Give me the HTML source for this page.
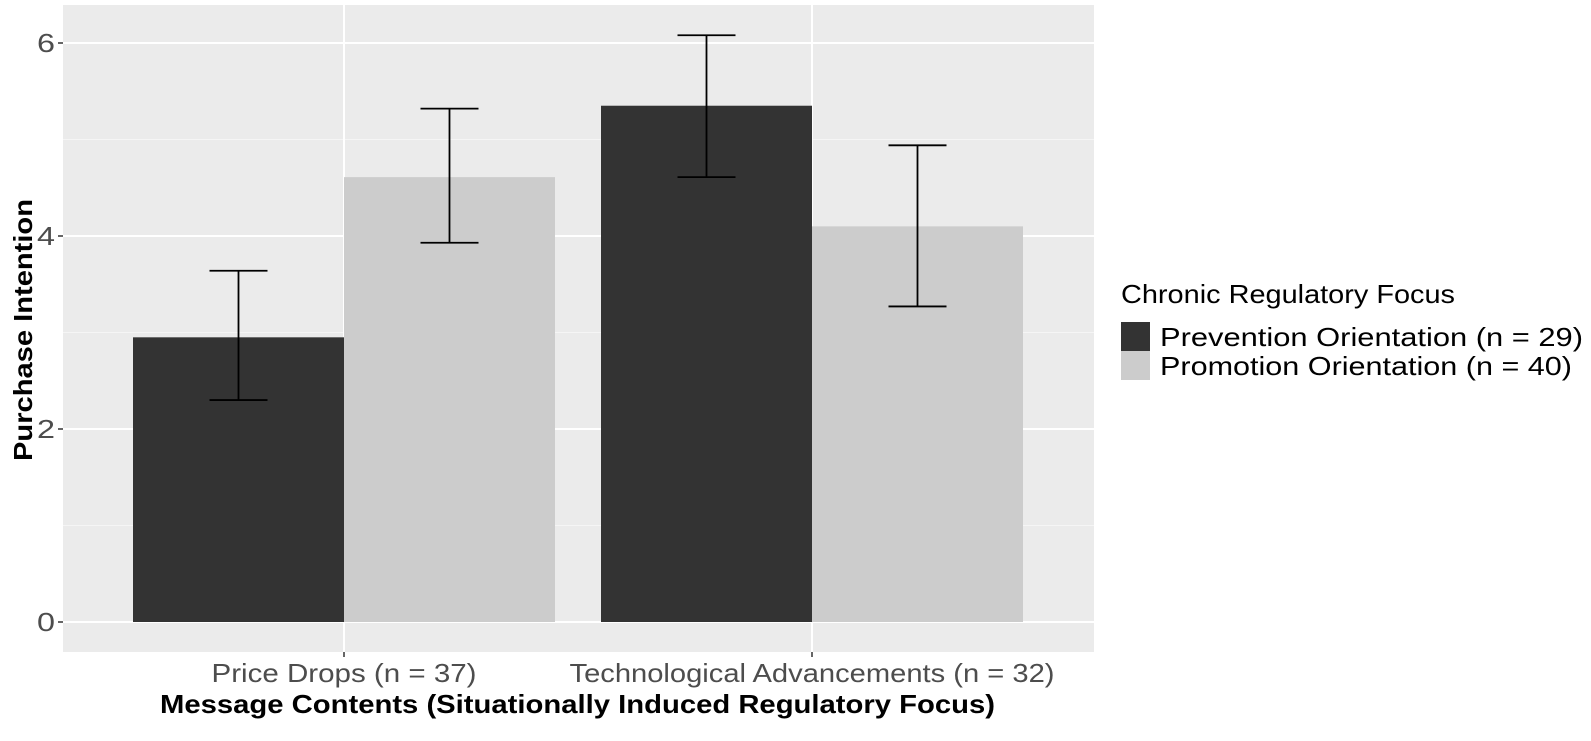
<!DOCTYPE html>
<html><head><meta charset="utf-8"><style>
body{margin:0;background:#fff;}
svg text{font-family:"Liberation Sans",sans-serif;}
</style></head><body>
<svg id="chart" width="1591" height="736" xmlns="http://www.w3.org/2000/svg"></svg>
<script>
const categories = ["Price Drops (n = 37)", "Technological Advancements (n = 32)"];
const seriesNames = ["Prevention Orientation (n = 29)", "Promotion Orientation (n = 40)"];
const preventionMean = [2.95, 5.35];
const preventionLow = [2.30, 4.61];
const preventionHigh = [3.64, 6.08];
const promotionMean = [4.61, 4.10];
const promotionLow = [3.93, 3.27];
const promotionHigh = [5.32, 4.94];
const yTicks = [0, 2, 4, 6];

const NS = "http://www.w3.org/2000/svg";
const svg = document.getElementById('chart');
const P = {l:63, r:1094, t:5, b:652};
const y = v => 622 - v * 96.5;
const catX = i => 344 + i * 468;
const barW = 211;
const catLen = [265, 485];
const legLen = [423, 412];
function mk(tag, attrs, parent) {
  const e = document.createElementNS(NS, tag);
  for (const k in attrs) e.setAttribute(k, attrs[k]);
  (parent || svg).appendChild(e);
  return e;
}
const bg = mk('rect', {x:P.l, y:P.t, width:P.r-P.l, height:P.b-P.t, fill:'#ebebeb'});


for (let v = 1; v <= 7; v += 2) {
  const yy = y(v);
  if (yy < P.t) continue;
  const g = mk('line', {x1:P.l, x2:P.r, y1:yy, y2:yy, stroke:'#f5f5f5', 'stroke-width':1});
  
  
}
yTicks.forEach(v => {
  const g = mk('line', {x1:P.l, x2:P.r, y1:y(v), y2:y(v), stroke:'#fff', 'stroke-width':2});
  
  
  const t = mk('line', {x1:P.l-5, x2:P.l, y1:y(v), y2:y(v), stroke:'#333', 'stroke-width':1.5});
  
  
  const tx = mk('text', {x:P.l-8, y:y(v)+9, 'text-anchor':'end', 'font-size':26, fill:'#4d4d4d', 'textLength':18, 'lengthAdjust':'spacingAndGlyphs'});
  tx.textContent = v;
  
  
});
categories.forEach((c, i) => {
  const g = mk('line', {x1:catX(i), x2:catX(i), y1:P.t, y2:P.b, stroke:'#fff', 'stroke-width':2});
  
  
  const t = mk('line', {x1:catX(i), x2:catX(i), y1:P.b, y2:P.b+5, stroke:'#333', 'stroke-width':1.5});
  
  
  const tx = mk('text', {x:catX(i), y:682, 'text-anchor':'middle', 'font-size':26, fill:'#4d4d4d', 'textLength':catLen[i], 'lengthAdjust':'spacingAndGlyphs'});
  tx.textContent = c;
  
  
});
const series = [
  {mean:preventionMean, lo:preventionLow, hi:preventionHigh, color:'#333333', off:-1},
  {mean:promotionMean, lo:promotionLow, hi:promotionHigh, color:'#cccccc', off:0}
];
series.forEach((s, si) => {
  s.mean.forEach((v, i) => {
    const x0 = catX(i) + s.off * barW;
    const r = mk('rect', {x:x0, y:y(v), width:barW, height:y(0)-y(v), fill:s.color});
    
    
  });
});
series.forEach((s, si) => {
  s.mean.forEach((v, i) => {
    const cx = catX(i) + s.off * barW + barW / 2;
    const g = mk('g', {stroke:'#000', 'stroke-width':1.8, fill:'none'});
    
    
    mk('line', {x1:cx, x2:cx, y1:y(s.lo[i]), y2:y(s.hi[i])}, g);
    mk('line', {x1:cx-29, x2:cx+29, y1:y(s.lo[i]), y2:y(s.lo[i])}, g);
    mk('line', {x1:cx-29, x2:cx+29, y1:y(s.hi[i]), y2:y(s.hi[i])}, g);
  });
});
const xt = mk('text', {x:160, y:713, 'font-size':26, 'font-weight':'bold', fill:'#000', 'textLength':835, 'lengthAdjust':'spacingAndGlyphs'});
xt.textContent = 'Message Contents (Situationally Induced Regulatory Focus)';


const yt = mk('text', {x:0, y:0, 'text-anchor':'middle', 'font-size':26, 'font-weight':'bold', fill:'#000', transform:'translate(32,330) rotate(-90)', 'textLength':262, 'lengthAdjust':'spacingAndGlyphs'});
yt.textContent = 'Purchase Intention';


const lt = mk('text', {x:1121, y:303, 'font-size':26, fill:'#000', 'textLength':334, 'lengthAdjust':'spacingAndGlyphs'});
lt.textContent = 'Chronic Regulatory Focus';


seriesNames.forEach((n, i) => {
  const k = mk('rect', {x:1121, y:322 + i*29, width:29, height:29, fill:series[i].color});
  
  
  const t = mk('text', {x:1160, y:346 + i*29, 'font-size':26, fill:'#000', 'textLength':legLen[i], 'lengthAdjust':'spacingAndGlyphs'});
  t.textContent = n;
  
  
});
</script>
</body></html>
